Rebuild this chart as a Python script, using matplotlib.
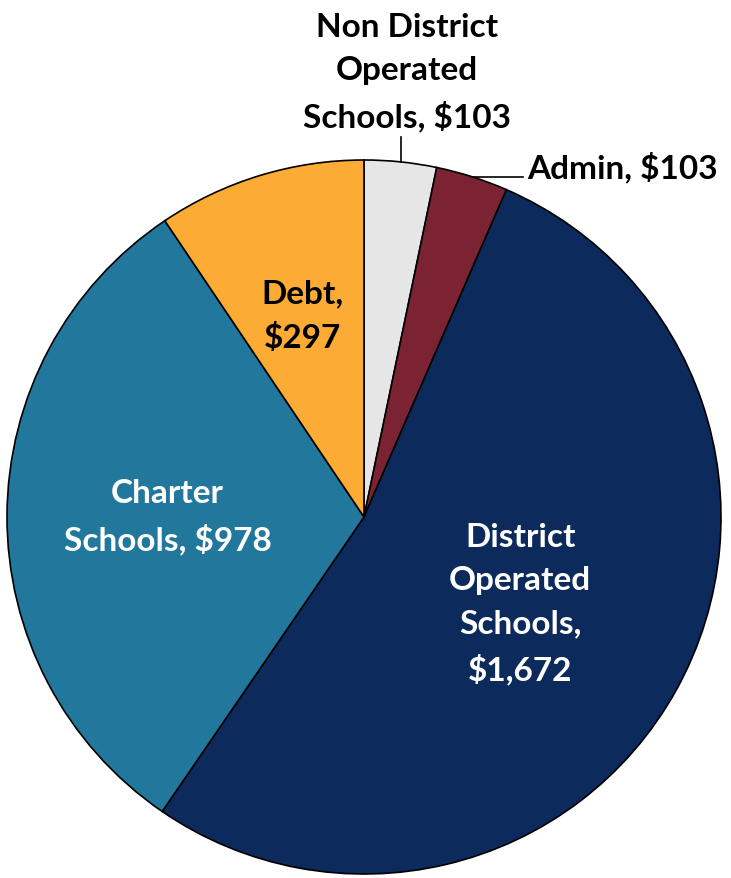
import numpy as np
import matplotlib.pyplot as plt

labels = ["Non District\nOperated\nSchools, $103", "Admin, $103",
          "District\nOperated\nSchools,\n$1,672", "Charter\nSchools, $978",
          "Debt,\n$297"]
values = [103, 103, 1672, 978, 297]
colors = ["#E6E6E6", "#7B2233", "#0D2A5C", "#22789C", "#FCAB34"]
text_colors = ["black", "black", "white", "white", "black"]

W, H = 731, 879
cx, cy, R = 364, H - 518, 357

fig = plt.figure(figsize=(W / 100, H / 100), dpi=100)
ax = fig.add_axes([0, 0, 1, 1])
ax.set_xlim(0, W)
ax.set_ylim(0, H)
ax.axis("off")

wedges, _ = ax.pie(values, colors=colors, startangle=90, counterclock=False,
                   center=(cx, cy), radius=R,
                   wedgeprops=dict(edgecolor="black", linewidth=1.2))
ax.set_xlim(0, W)
ax.set_ylim(0, H)
ax.set_aspect("equal")

font = dict(family="Lato", fontweight="bold", fontsize=24, linespacing=1.58)

# inside labels: radius fraction per slice
inner = {2: 0.50, 3: 0.55, 4: 0.59}
for i, w in enumerate(wedges):
    mid = np.deg2rad((w.theta1 + w.theta2) / 2)
    ex, ey = cx + R * np.cos(mid), cy + R * np.sin(mid)
    if i in inner:
        r = inner[i] * R
        ax.text(cx + r * np.cos(mid), cy + r * np.sin(mid), labels[i],
                ha="center", va="center", color=text_colors[i], **font)
    elif i == 0:
        ax.plot([ex, ex], [ey, ey + 25], color="black", lw=1.2)
        ax.text(ex + 6, ey + 31, labels[i], ha="center", va="bottom",
                color=text_colors[i], **font)
    else:
        ax.plot([ex, ex + 51], [ey, ey], color="black", lw=1.2)
        ax.text(ex + 55, ey + 10, labels[i], ha="left", va="center",
                color=text_colors[i], **font)

fig.savefig("out.png", dpi=100)
